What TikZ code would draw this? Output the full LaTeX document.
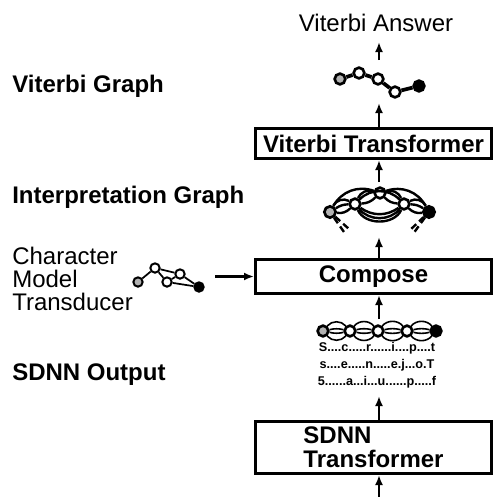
\documentclass[tikz,border=0pt]{standalone}
\usepackage{fontspec}
\setmainfont{Liberation Sans}
\usepackage{tikz}
\usetikzlibrary{arrows.meta}
\usetikzlibrary{positioning}
\tikzstyle{stage}=[draw,line width=2.25pt,minimum width=177pt,inner sep=0pt,font=\bfseries\fontsize{18}{18}\selectfont]
\tikzstyle{tag}=[anchor=base west,inner sep=0pt,font=\bfseries\fontsize{18}{18}\selectfont]
\tikzstyle{flow}=[line width=1.6pt,-{Latex[length=7.5pt,width=6pt]}]
\tikzstyle{vx}=[draw,circle,fill=white,inner sep=0pt,minimum size=8pt,line width=2pt]
\tikzstyle{initst}=[fill=black!30]
\tikzstyle{finalst}=[fill=black]

\begin{document}
\begin{tikzpicture}[x=0.75pt,y=-0.75pt]
\useasboundingbox (0,0) rectangle (496,497);

% processing stages
\node [stage,minimum height=22.5pt] (vt) at (373.5,143.5) {Viterbi Transformer};
\node [stage,minimum height=25.5pt] (comp) at (373.5,276.5) {Compose};
\node [stage,minimum height=39pt,align=left] (sdnn) at (373.5,447.5) {SDNN\\Transformer};

% labels
\node [tag] (vg) at (12,92) {Viterbi Graph};
\node [tag] (ig) at (12,203) {Interpretation Graph};
\node [tag,font=\fontsize{18}{16.9}\selectfont,align=left] (cmt) at (12,310) {Character\\Model\\Transducer};
\node [tag] (so) at (12,380) {SDNN Output};
\node [anchor=base,inner sep=0pt,font=\fontsize{18}{18}\selectfont] (ans) at (376,31) {Viterbi Answer};
\node [anchor=base,inner sep=0pt,align=center,font=\bfseries\fontsize{9.5}{12.75}\selectfont] (scores) at (377,385)
  {S....c.....r......i....p....t\\s....e.....n.....e.j...o.T\\5......a...i...u......p.....f};

% viterbi graph
\node [vx,initst] (v1) at (340,79) {};
\node [vx] (v2) at (359,73) {};
\node [vx] (v3) at (378,79) {};
\node [vx] (v4) at (395,92) {};
\node [vx,finalst] (v5) at (419,86) {};
\draw [line width=2.8pt] (v1) -- (v2) -- (v3) -- (v4) -- (v5);

% interpretation graph
\node [vx,initst,minimum size=8.5pt] (i1) at (330,212) {};
\node [vx] (i2) at (355,204) {};
\node [vx] (i3) at (380,193) {};
\node [vx] (i4) at (404,204) {};
\node [vx,finalst,minimum size=8.5pt] (i5) at (429,212) {};
\begin{scope}[line width=1.8pt]
\foreach \b in {45,15,-25} \draw (i1) to[bend left=\b] (i2);
\foreach \b in {45,15,-25} \draw (i4) to[bend left=\b] (i5);
\foreach \b in {40,-20} \draw (i2) to[bend left=\b] (i3);
\foreach \b in {40,-20} \draw (i3) to[bend left=\b] (i4);
\foreach \b in {45,-35,-50,-65} \draw (i2) to[bend left=\b] (i4);
\draw (i1) to[bend left=40] (i3);
\draw (i3) to[bend left=40] (i5);
\coordinate (l1) at (344,232);
\coordinate (l2) at (349,229);
\coordinate (r1) at (409,231);
\coordinate (r2) at (413,234);
\draw [dash pattern=on 5pt off 3pt] (i1) -- (l1);
\draw [dash pattern=on 5pt off 3pt] (i1) -- (l2);
\draw [dash pattern=on 5pt off 3pt] (i5) -- (r1);
\draw [dash pattern=on 5pt off 3pt] (i5) -- (r2);
\end{scope}

% sdnn output graph
\node [vx,initst] (s1) at (323,331) {};
\node [vx] (s2) at (350,331) {};
\node [vx] (s3) at (378,331) {};
\node [vx] (s4) at (407,331) {};
\node [vx,finalst] (s5) at (436,331) {};
\foreach \a/\b in {s1/s2,s2/s3,s3/s4,s4/s5}
  \foreach \c in {50,12,-12,-50} \draw [line width=1.2pt] (\a) to[bend left=\c] (\b);

% character model transducer
\begin{scope}[every node/.style={vx,minimum size=7pt,line width=1.5pt}]
\node [initst] (c1) at (138,282) {};
\node (c2) at (155,268) {};
\node (c3) at (167,282) {};
\node (c4) at (180,274) {};
\node [finalst] (c5) at (199,287) {};
\end{scope}
\draw [line width=1.3pt] (c1) -- (c2) -- (c3) -- (c4) -- (c5) (c2) -- (c4) (c3) -- (c5);

% data flow
\coordinate (feed) at (379,497);
\coordinate (sobot) at (379,396);
\coordinate (sgtop) at (379,319);
\coordinate (igbot) at (379,237);
\coordinate (igtop) at (379,182);
\coordinate (vgbot) at (379,103);
\coordinate (vgtop) at (379,60);
\coordinate (anbot) at (379,42);
\coordinate (cmout) at (215,276.5);
\draw [flow] (feed) -- (feed |- sdnn.south);
\draw [flow] (sdnn.north -| sobot) -- (sobot);
\draw [flow] (sgtop) -- (sgtop |- comp.south);
\draw [flow] (comp.north -| igbot) -- (igbot);
\draw [flow] (igtop) -- (igtop |- vt.south);
\draw [flow] (vt.north -| vgbot) -- (vgbot);
\draw [flow] (vgtop) -- (anbot);
\draw [flow] (cmout) -- (comp.west);

\end{tikzpicture}
\end{document}
